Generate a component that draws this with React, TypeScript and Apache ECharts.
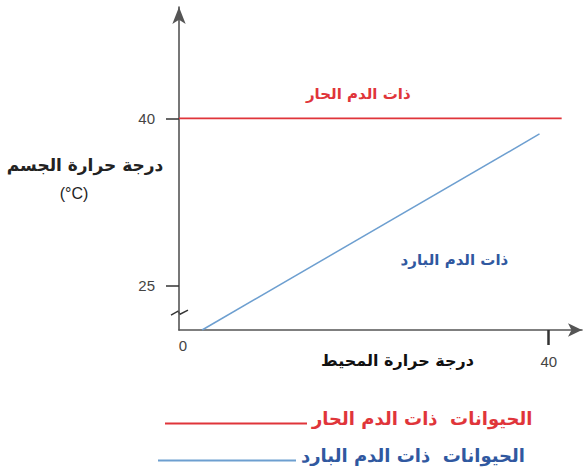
import React, { useEffect, useRef } from "react";
import * as echarts from "echarts";

const hotName = "الحيوانات  ذات الدم الحار";
const coldName = "الحيوانات  ذات الدم البارد";
const hotLabel = "ذات الدم الحار";
const coldLabel = "ذات الدم البارد";
const xAxisName = "درجة حرارة المحيط";
const yAxisNameLine1 = "درجة حرارة الجسم";
const yAxisNameLine2 = "(°C)";

const hotX = [0, 41.4];
const hotY = [40, 40];
const coldX = [2.5, 39];
const coldY = [21, 38.6];

const yTickValues = [25, 40];
const xTickValues = [40];
const xZeroLabel = "0";

const hotLabelAt = [19.4, 42.2];
const coldLabelAt = [29.8, 27.3];
const breakAt = 22.6;

const RED = "#e0353a";
const BLUE_LINE = "#6d9fd0";
const BLUE_TEXT = "#3058a0";
const AXIS = "#555555";
const ARABIC_FONT = "DejaVu Sans";

const legendText = (color: string) => ({
  color,
  fontSize: 18,
  fontWeight: "bold",
  fontFamily: ARABIC_FONT,
  rich: {
    t: {
      color,
      fontSize: 18,
      fontWeight: "bold",
      fontFamily: ARABIC_FONT,
      padding: [0, 0, 11, 0],
    },
  },
});

export default function App() {
  const ref = useRef<HTMLDivElement>(null);
  useEffect(() => {
    if (!ref.current) return;
    const chart = echarts.init(ref.current, null, { renderer: "svg" });
    const option: any = {
      animation: false,
      backgroundColor: "#ffffff",
      grid: {
        left: 179,
        top: 7,
        width: 403,
        height: 323,
        containLabel: false,
        outerBoundsMode: "none",
      },
      xAxis: {
        type: "value",
        min: 0,
        max: 43.6,
        splitLine: { show: false },
        axisLine: {
          show: true,
          lineStyle: { color: AXIS, width: 1.6 },
          symbol: ["none", "arrow"],
          symbolSize: [10, 14],
        },
        axisTick: {
          show: true,
          customValues: xTickValues,
          length: 15,
          lineStyle: { color: "#333", width: 2.5 },
        },
        axisLabel: {
          show: true,
          customValues: xTickValues,
          margin: 24,
          color: "#444",
          fontSize: 15,
          fontFamily: "Liberation Sans",
        },
        name: xAxisName,
        nameLocation: "middle",
        nameGap: 22,
        nameMoveOverlap: false,
        nameTextStyle: {
          color: "#111",
          fontSize: 16,
          fontWeight: "bold",
          fontFamily: ARABIC_FONT,
          padding: [0, 0, 0, 34],
        },
      },
      yAxis: {
        type: "value",
        min: 21,
        max: 50,
        splitLine: { show: false },
        axisLine: {
          show: true,
          lineStyle: { color: AXIS, width: 1.6 },
          symbol: ["none", "arrow"],
          symbolSize: [10, 17],
        },
        axisTick: {
          show: true,
          customValues: yTickValues,
          length: 13,
          lineStyle: { color: "#333", width: 1.5 },
        },
        axisLabel: {
          show: true,
          customValues: yTickValues,
          margin: 24,
          color: "#444",
          fontSize: 15,
          fontFamily: "Liberation Sans",
        },
        name: "{a|" + yAxisNameLine1 + "}\n{b|" + yAxisNameLine2 + "}",
        nameLocation: "middle",
        nameRotate: 0,
        nameGap: 94,
        nameMoveOverlap: false,
        nameTextStyle: {
          align: "center",
          verticalAlign: "middle",
          padding: [21, 0, 0, 0],
          rich: {
            a: {
              color: "#222",
              fontSize: 17,
              fontWeight: "bold",
              fontFamily: ARABIC_FONT,
              lineHeight: 28,
              align: "center",
            },
            b: {
              color: "#222",
              fontSize: 16,
              fontFamily: "Liberation Sans",
              lineHeight: 28,
              align: "center",
              padding: [0, 22, 0, 0],
            },
          },
        },
      },
      legend: [
        {
          data: [hotName],
          left: 160,
          top: 404,
          icon: "rect",
          itemWidth: 142,
          itemHeight: 2,
          itemGap: 4,
          formatter: (name: string) => "{t|" + name + "}",
          textStyle: legendText(RED),
          selectedMode: false,
        },
        {
          data: [coldName],
          left: 153,
          top: 441,
          icon: "rect",
          itemWidth: 138,
          itemHeight: 2,
          itemGap: 4,
          formatter: (name: string) => "{t|" + name + "}",
          textStyle: legendText(BLUE_TEXT),
          selectedMode: false,
        },
      ],
      series: [
        {
          name: hotName,
          type: "line",
          data: hotX.map((x, i) => [x, hotY[i]]),
          showSymbol: false,
          symbol: "none",
          lineStyle: { color: RED, width: 1.8 },
          itemStyle: { color: RED },
          markPoint: {
            symbol: "circle",
            symbolSize: 0,
            label: {
              show: true,
              position: "inside",
              formatter: hotLabel,
              color: RED,
              fontSize: 15,
              fontWeight: "bold",
              fontFamily: ARABIC_FONT,
            },
            data: [{ coord: hotLabelAt }],
          },
        },
        {
          name: coldName,
          type: "line",
          data: coldX.map((x, i) => [x, coldY[i]]),
          showSymbol: false,
          symbol: "none",
          lineStyle: { color: BLUE_LINE, width: 1.5 },
          itemStyle: { color: BLUE_LINE },
          markPoint: {
            symbol: "circle",
            symbolSize: 0,
            label: {
              show: true,
              position: "inside",
              formatter: coldLabel,
              color: BLUE_TEXT,
              fontSize: 15,
              fontWeight: "bold",
              fontFamily: ARABIC_FONT,
            },
            data: [{ coord: coldLabelAt }],
          },
        },
      ],
    };
    chart.setOption(option);
    const [bx, by] = chart.convertToPixel({ gridIndex: 0 }, [0, breakAt]) as number[];
    const [zx, zy] = chart.convertToPixel({ gridIndex: 0 }, [0, 21]) as number[];
    chart.setOption({
      graphic: [
        {
          type: "polyline",
          shape: {
            points: [
              [bx - 8, by + 3],
              [bx - 1, by - 1],
              [bx + 1, by + 2],
              [bx + 9, by - 2],
            ],
          },
          style: { stroke: "#333", lineWidth: 1.5, fill: "none" },
        },
        {
          type: "text",
          x: zx + 4,
          y: zy + 15,
          style: {
            text: xZeroLabel,
            fill: "#444",
            fontSize: 15,
            fontFamily: "Liberation Sans",
            align: "center",
            verticalAlign: "middle",
          },
        },
      ],
    });
    return () => chart.dispose();
  }, []);
  return (
    <div
      ref={ref}
      style={{ position: "fixed", left: 0, top: 0, width: 585, height: 471, background: "#fff" }}
    />
  );
}
